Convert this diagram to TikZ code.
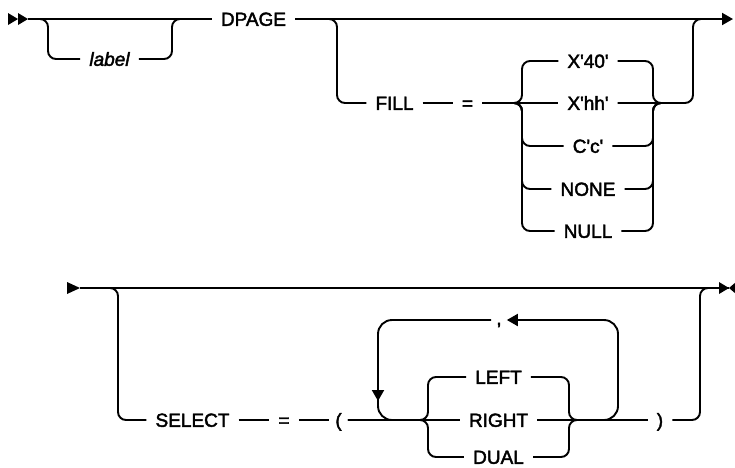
\documentclass[tikz,border=0pt]{standalone}
\usepackage{fontspec}
\setmainfont{Liberation Sans}
\newfontfamily\dfont{Liberation Sans}[FakeBold=2.2]
\newfontfamily\dfontit{Liberation Sans Italic}[FakeBold=2.2]
\usetikzlibrary{arrows.meta}
\newcommand{\sq}{\textquotesingle}
\tikzset{
  lbl/.style={font=\fontsize{19}{22}\selectfont\dfont, inner xsep=9pt, inner ysep=0pt,
    text height=13.6pt, text depth=0pt, anchor=center},
  ln/.style={line width=1.9pt, line cap=butt},
  rc/.style={rounded corners=8pt},
  rcl/.style={rounded corners=14pt},
  tip/.style={-{Triangle[length=11pt,width=12pt]}},
}
\begin{document}
\begin{tikzpicture}[x=1pt,y=-1pt]
\useasboundingbox (0,0) rectangle (735,467);
% ---------- row 1 ----------
\coordinate (s1) at (28,19);
\coordinate (e1) at (733,19);
\fill (8,13) -- (18,19) -- (8,25) -- cycle;
\fill (18,13) -- (28,19) -- (18,25) -- cycle;
\node[lbl,font=\fontsize{19}{22}\selectfont\dfontit] (label) at (109.5,59) {label};
\node[lbl] (dpage) at (253.5,19) {DPAGE};
\node[lbl] (fill) at (394.5,103) {FILL};
\node[lbl] (eq1) at (467.5,103) {=};
\node[lbl] (o1) at (588,61) {X\sq 40\sq};
\node[lbl] (o2) at (588,103) {X\sq hh\sq};
\node[lbl] (o3) at (588,146) {C\sq c\sq};
\node[lbl] (o4) at (588,189) {NONE};
\node[lbl] (o5) at (588,231) {NULL};
\draw[ln] (s1) -- (dpage.west);
\draw[ln,tip] (dpage.east) -- (e1);
% label branch
\coordinate (a1) at (38,19);
\coordinate (a2) at (48,19);
\coordinate (a3) at (172,19);
\coordinate (a4) at (182,19);
\draw[ln,rc] (a1) -- (a2) |- (label.west);
\draw[ln,rc] (label.east) -| (a3) -- (a4);
% FILL branch
\coordinate (f1) at (327,19);
\coordinate (f2) at (337,19);
\draw[ln,rc] (f1) -- (f2) |- (fill.west);
\draw[ln] (fill.east) -- (eq1.west);
\draw[ln] (eq1.east) -- (o2.west);
\coordinate (lb) at (522,103);
\coordinate (rb) at (653,103);
\coordinate (j2) at (665,103);
\foreach \o in {o1,o3,o4,o5}{
  \draw[ln,rc] (eq1.east) -- (lb) |- (\o.west);
  \draw[ln,rc] (\o.east) -| (rb) -- (j2);
}
\coordinate (r1) at (693,103);
\coordinate (r2) at (693,19);
\coordinate (r3) at (705,19);
\draw[ln,rc] (o2.east) -- (r1) -- (r2) -- (r3);
% ---------- row 2 ----------
\coordinate (s2) at (80,288);
\coordinate (e2) at (729,288);
\fill (67,282) -- (s2) -- (67,294) -- cycle;
\draw[ln] (s2) -- (e2);
\fill (e2) -- ++(-10,-6) -- ++(0,12) -- cycle;
\fill (e2) -- ++(7,-6) -- ++(0,12) -- cycle;
\node[lbl] (sel) at (192.5,420) {SELECT};
\node[lbl] (eq2) at (284,420) {=};
\node[lbl,inner xsep=6pt] (lp) at (338.5,420) {(};
\node[lbl] (q1) at (498.5,377) {LEFT};
\node[lbl] (q2) at (498.5,420) {RIGHT};
\node[lbl] (q3) at (498.5,457) {DUAL};
\node[lbl,inner xsep=9pt] (rp) at (660,420) {)};
\node[lbl,inner xsep=5pt] (cm) at (499,318) {,};
\coordinate (c1) at (108,288);
\coordinate (c2) at (118,288);
\draw[ln,rc] (c1) -- (c2) |- (sel.west);
\draw[ln] (sel.east) -- (eq2.west);
\draw[ln] (eq2.east) -- (lp.west);
\draw[ln] (lp.east) -- (q2.west);
\coordinate (lb2) at (428,420);
\coordinate (rb2) at (569,420);
\coordinate (j4) at (580,420);
\foreach \o in {q1,q3}{
  \draw[ln,rc] (lp.east) -- (lb2) |- (\o.west);
  \draw[ln,rc] (\o.east) -| (rb2) -- (j4);
}
\draw[ln] (q2.east) -- (rp.west);
\coordinate (t1) at (700,420);
\coordinate (t2) at (700,288);
\coordinate (t3) at (712,288);
\draw[ln,rc] (rp.east) -- (t1) -- (t2) -- (t3);
% repeat loop
\coordinate (L1) at (600,420);
\coordinate (L2) at (618,420);
\coordinate (L3) at (618,320);
\coordinate (L4) at (378,320);
\coordinate (L5) at (378,401);
\coordinate (L6) at (378,396);
\coordinate (L7) at (378,420);
\coordinate (L8) at (398,420);
\draw[ln,rcl,tip] (L1) -- (L2) -- (L3) -- (cm.east |- L3);
\draw[ln,rcl,tip] (cm.west |- L4) -- (L4) -- (L5);
\draw[ln,rcl] (L6) -- (L7) -- (L8);
\end{tikzpicture}
\end{document}
